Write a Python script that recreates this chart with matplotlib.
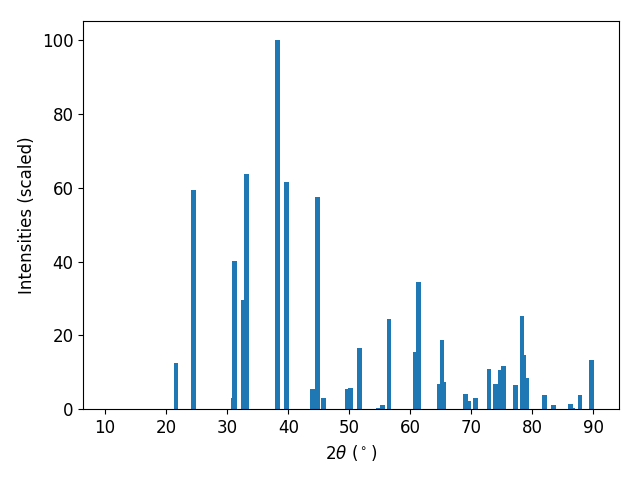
import matplotlib
matplotlib.use("Agg")
import matplotlib.pyplot as plt

two_theta = [21.6, 24.5, 30.95, 31.2, 32.7, 33.2, 38.3, 39.75, 44.0, 44.8, 45.8,
             49.75, 50.25, 51.7, 54.8, 55.5, 56.5, 60.9, 61.4, 64.7, 65.2, 65.5,
             69.1, 69.6, 70.7, 72.9, 73.8, 74.0, 74.8, 75.2, 77.3, 78.3, 78.6, 79.1,
             82.0, 83.4, 86.2, 86.6, 87.8, 89.75]
intensities = [12.5, 59.3, 3.2, 40.1, 29.5, 63.7, 100.0, 61.5, 5.4, 57.5, 3.0,
               5.4, 5.7, 16.5, 0.3, 1.1, 24.4, 15.4, 34.4, 7.0, 18.7, 7.3,
               4.1, 2.2, 3.2, 10.8, 0.2, 6.8, 10.6, 11.7, 6.5, 25.2, 14.6, 8.4,
               3.8, 1.1, 1.4, 0.3, 3.8, 13.3]

fig, ax = plt.subplots(figsize=(6.4, 4.8), dpi=100)
ax.bar(two_theta, intensities, width=0.8, color="#1f77b4")
ax.set_xlim(6.4, 94.25)
ax.set_xlabel(r"$2\theta$ ($^\circ$)", fontsize=12)
ax.set_ylabel("Intensities (scaled)", fontsize=12)
ax.tick_params(labelsize=12)
fig.subplots_adjust(left=0.130, right=0.9677, top=0.956, bottom=0.147)
fig.savefig("out.png", dpi=100)
